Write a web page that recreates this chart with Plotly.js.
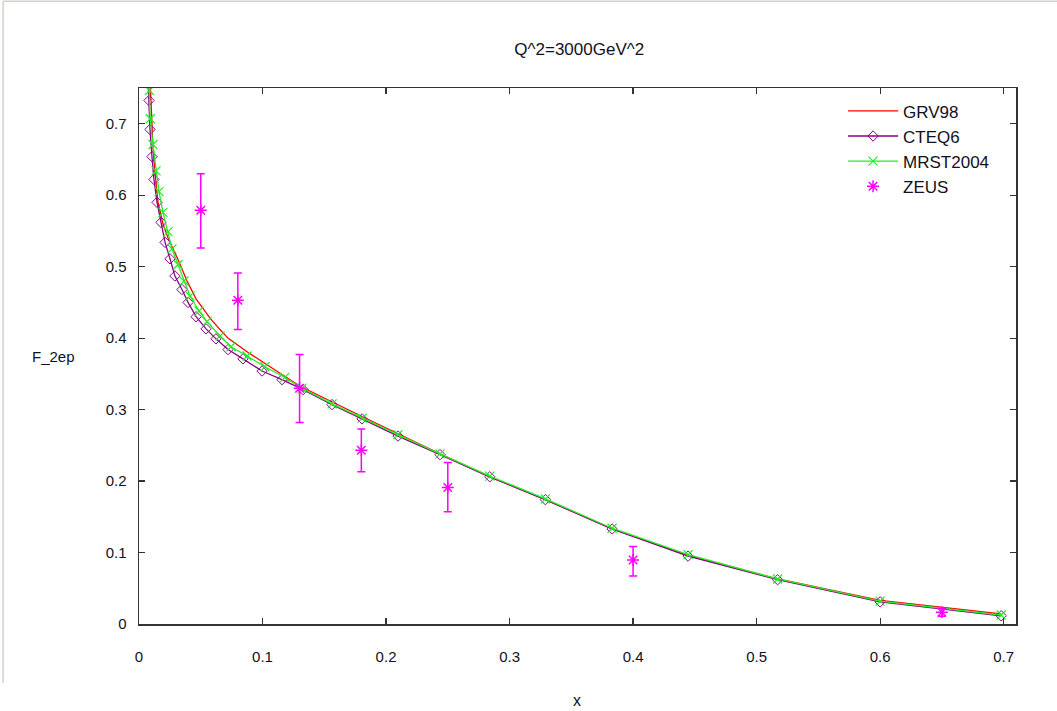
<!DOCTYPE html>
<html>
<head>
<meta charset="utf-8">
<script src="https://cdn.plot.ly/plotly-3.0.1.min.js"></script>
<style>
  html, body { margin: 0; padding: 0; background: #ffffff; }
  #chart { width: 1057px; height: 711px; }
</style>
</head>
<body>
<div id="chart"></div>
<script>
// ---- data ----
const grvX = [0.0080, 0.0097, 0.0113, 0.0130, 0.0154, 0.0194, 0.0235, 0.0316, 0.0389, 0.0462, 0.0575, 0.0656, 0.0720, 0.0883, 0.1004, 0.1300, 0.1810, 0.2097, 0.2437, 0.2840, 0.3290, 0.3830, 0.4445, 0.5170, 0.6000, 0.6980];
const grvY = [0.800, 0.735, 0.668, 0.630, 0.590, 0.560, 0.540, 0.510, 0.480, 0.455, 0.428, 0.412, 0.400, 0.380, 0.366, 0.333, 0.290, 0.266, 0.238, 0.206, 0.174, 0.133, 0.096, 0.063, 0.033, 0.014];

const cteqX = [0.0066, 0.0081, 0.0089, 0.0105, 0.0121, 0.0146, 0.0178, 0.0211, 0.0251, 0.0291, 0.0348, 0.0397, 0.0462, 0.0543, 0.0623, 0.0721, 0.0842, 0.0996, 0.1158, 0.1328, 0.1563, 0.1806, 0.2097, 0.2437, 0.2840, 0.3290, 0.3830, 0.4445, 0.5170, 0.6000, 0.6980];
const cteqY = [0.790, 0.7325, 0.692, 0.654, 0.622, 0.590, 0.562, 0.534, 0.511, 0.487, 0.468, 0.450, 0.430, 0.413, 0.399, 0.384, 0.371, 0.354, 0.342, 0.328, 0.307, 0.287, 0.263, 0.237, 0.206, 0.174, 0.133, 0.095, 0.062, 0.031, 0.0115];

const mrstX = [0.0070, 0.0085, 0.0091, 0.0113, 0.0138, 0.0162, 0.0194, 0.0235, 0.0267, 0.0316, 0.0364, 0.0413, 0.0486, 0.0550, 0.0656, 0.0745, 0.0875, 0.1020, 0.1180, 0.1320, 0.1563, 0.1806, 0.2097, 0.2437, 0.2840, 0.3290, 0.3830, 0.4445, 0.5170, 0.6000, 0.6980];
const mrstY = [0.800, 0.7465, 0.707, 0.671, 0.634, 0.605, 0.576, 0.549, 0.525, 0.503, 0.480, 0.459, 0.438, 0.423, 0.403, 0.388, 0.375, 0.360, 0.345, 0.330, 0.308, 0.288, 0.265, 0.238, 0.207, 0.175, 0.134, 0.097, 0.063, 0.032, 0.0126];

const zeusX = [0.05, 0.08, 0.13, 0.18, 0.25, 0.40, 0.65];
const zeusY = [0.579, 0.453, 0.330, 0.243, 0.191, 0.0896, 0.0164];
const zeusErrPlus  = [0.051, 0.038, 0.047, 0.030, 0.035, 0.019, 0.0056];
const zeusErrMinus = [0.053, 0.041, 0.048, 0.030, 0.034, 0.0226, 0.0054];

const xTicks = [0, 0.1, 0.2, 0.3, 0.4, 0.5, 0.6, 0.7];
const yTicks = [0, 0.1, 0.2, 0.3, 0.4, 0.5, 0.6, 0.7];

const titleText = 'Q^2=3000GeV^2';
const xTitle = 'x';
const yTitle = 'F_2ep';

// ---- styles ----
const FONT = 'Liberation Sans, Arial, sans-serif';
const TXT = '#111122';

const traces = [
  {
    name: 'GRV98', x: grvX, y: grvY, type: 'scatter', mode: 'lines',
    line: {color: '#ff0000', width: 1.3}
  },
  {
    name: 'CTEQ6', x: cteqX, y: cteqY, type: 'scatter', mode: 'lines+markers',
    line: {color: '#8b008b', width: 1.3},
    marker: {symbol: 'diamond-open', size: 8, color: '#8b008b', line: {color: '#8b008b', width: 1}}
  },
  {
    name: 'MRST2004', x: mrstX, y: mrstY, type: 'scatter', mode: 'lines+markers',
    line: {color: '#22ee22', width: 1.3},
    marker: {symbol: 'x-thin-open', size: 9, color: '#22ee22', line: {color: '#22ee22', width: 1.2}}
  },
  {
    name: 'ZEUS', x: zeusX, y: zeusY, type: 'scatter', mode: 'markers',
    marker: {symbol: 'asterisk-open', size: 10, color: '#ff00ff', line: {color: '#ff00ff', width: 1.5}},
    error_y: {type: 'data', symmetric: false, array: zeusErrPlus, arrayminus: zeusErrMinus,
              color: '#ff00ff', thickness: 1.5, width: 4}
  }
];

const axisCommon = {
  showgrid: false, zeroline: false,
  showline: true, linecolor: '#333333', linewidth: 1.5, mirror: 'ticks',
  ticks: 'inside', ticklen: 6, tickwidth: 1.2, tickcolor: '#333333',
  tickfont: {family: FONT, size: 15, color: TXT},
  tickmode: 'array'
};

const layout = {
  width: 1057, height: 711,
  paper_bgcolor: '#ffffff', plot_bgcolor: '#ffffff',
  margin: {l: 139, r: 41, t: 88, b: 87},
  showlegend: true,
  title: {text: titleText, x: 0.548, xanchor: 'center', y: 0.931, yanchor: 'middle',
          font: {family: FONT, size: 17, color: TXT}},
  xaxis: Object.assign({}, axisCommon, {
    range: [0, 0.71], tickvals: xTicks, ticktext: xTicks.map(String),
    ticklabelstandoff: 18
  }),
  yaxis: Object.assign({}, axisCommon, {
    range: [0, 0.75], tickvals: yTicks, ticktext: yTicks.map(String),
    ticklabelstandoff: 8
  }),
  legend: {
    x: 0.975, xanchor: 'right', y: 0.99, yanchor: 'top',
    bgcolor: 'rgba(0,0,0,0)', borderwidth: 0,
    font: {family: FONT, size: 17, color: TXT},
    tracegroupgap: 0, itemwidth: 50
  },
  annotations: [
    {text: yTitle, xref: 'paper', yref: 'paper', x: -0.097, y: 0.5, xanchor: 'center', yanchor: 'middle',
     showarrow: false, font: {family: FONT, size: 15, color: TXT}},
    {text: xTitle, xref: 'paper', yref: 'paper', x: 0.499, y: -0.142, xanchor: 'center', yanchor: 'middle',
     showarrow: false, font: {family: FONT, size: 16, color: TXT}}
  ],
  shapes: [
    {type: 'line', xref: 'paper', yref: 'paper', x0: -0.155, x1: -0.155, y0: 1.162, y1: -0.110,
     line: {color: '#d4d0c8', width: 1.5}},
    {type: 'line', xref: 'paper', yref: 'paper', x0: -0.155, x1: 1.05, y0: 1.162, y1: 1.162,
     line: {color: '#d4d0c8', width: 1.5}}
  ]
};

Plotly.newPlot('chart', traces, layout, {displayModeBar: false, staticPlot: true});
</script>
</body>
</html>
